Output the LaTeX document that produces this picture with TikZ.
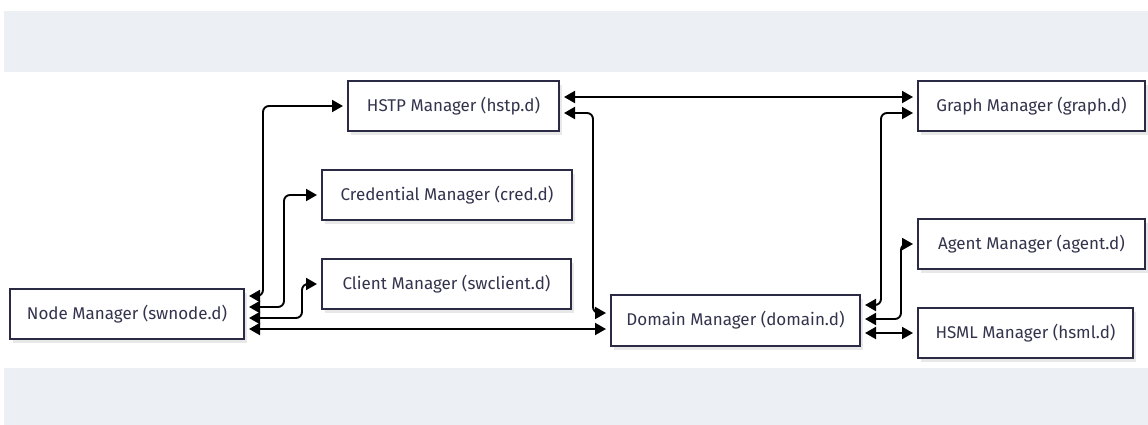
\documentclass[tikz,border=0pt]{standalone}
\usepackage{fontspec}
\setmainfont{Fira Sans}
\usepackage{xcolor}
\usepackage{tikz}
\usetikzlibrary{arrows.meta,calc,positioning,shadows}

\definecolor{bandgray}{HTML}{ECF0F4}
\definecolor{boxline}{HTML}{2A2A45}
\definecolor{boxtext}{HTML}{33334D}

\begin{document}
\begin{tikzpicture}[
    x=1pt,
    y=-1pt,
    daemon/.style={
        draw=boxline,
        fill=white,
        line width=2pt,
        minimum height=50pt,
        inner sep=0pt,
        text=boxtext,
        font=\fontsize{17}{19}\selectfont,
        drop shadow={shadow xshift=3pt,shadow yshift=-4pt,fill=black!9,opacity=1}
    },
    link/.style={
        draw=black,
        line width=1.9pt,
        rounded corners=6pt,
        shorten <=4pt,
        shorten >=4pt,
        {Triangle[length=11pt,width=12pt]}-{Triangle[length=11pt,width=12pt]}
    }
]

\useasboundingbox (0,0) rectangle (1148,425);
\fill[bandgray] (4,11) rectangle (1148,72);
\fill[bandgray] (4,368) rectangle (1148,425);

% daemons
\node[daemon,minimum width=234pt] (swnode) at (127,314) {Node Manager (swnode.d)};
\node[daemon,minimum width=211pt] (hstp) at (453.5,106) {HSTP Manager (hstp.d)};
\node[daemon,minimum width=250pt] (cred) at (447,195) {Credential Manager (cred.d)};
\node[daemon,minimum width=249pt] (client) at (446.5,284) {Client Manager (swclient.d)};
\node[daemon,minimum width=249pt,minimum height=51pt] (domain) at (735.5,320.5) {Domain Manager (domain.d)};
\node[daemon,minimum width=227pt] (graph) at (1031.5,106) {Graph Manager (graph.d)};
\node[daemon,minimum width=227pt] (agent) at (1031.5,244) {Agent Manager (agent.d)};
\node[daemon,minimum width=215pt] (hsml) at (1025.5,333) {HSML Manager (hsml.d)};

% links
\draw[link] ([yshift=18pt]swnode.east) -- ++(18,0) |- (hstp.west);
\draw[link] ([yshift=7pt]swnode.east) -- ++(39,0) |- (cred.west);
\draw[link] ([yshift=-4pt]swnode.east) -- ++(57,0) |- (client.west);
\draw[link] ([yshift=-15pt]swnode.east) -- ([yshift=-8.5pt]domain.west);
\draw[link] ([yshift=9pt]hstp.east) -- ([yshift=9pt]graph.west);
\draw[link] ([yshift=-7pt]hstp.east) -- ++(33,0) |- ([yshift=7.5pt]domain.west);
\draw[link] ([yshift=15.5pt]domain.east) -- ++(20,0) |- ([yshift=-7pt]graph.west);
\draw[link] ([yshift=1.5pt]domain.east) -- ++(40,0) |- (agent.west);
\draw[link] (domain.east |- hsml.west) -- (hsml.west);

\end{tikzpicture}
\end{document}
